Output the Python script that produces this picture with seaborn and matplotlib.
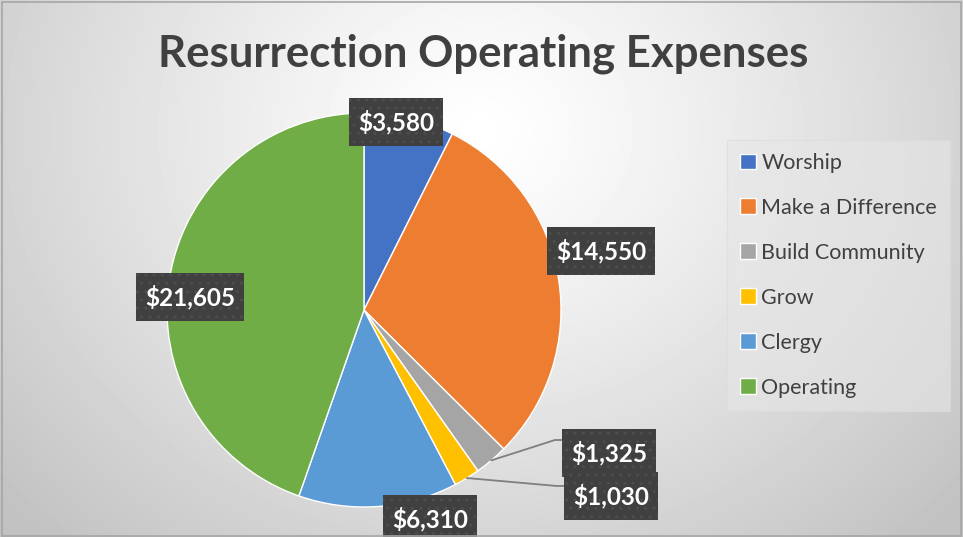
import numpy as np
import matplotlib.pyplot as plt
import seaborn as sns

# chart data
categories = ["Worship", "Make a Difference", "Build Community", "Grow", "Clergy", "Operating"]
expenses = [3580, 14550, 1325, 1030, 6310, 21605]
colors = ["#4472C4", "#ED7D31", "#A5A5A5", "#FFC000", "#5B9BD5", "#70AD47"]

sns.set_style("white")
plt.rcParams['font.family'] = ['Lato', 'DejaVu Sans']

W, H = 963, 537
fig = plt.figure(figsize=(W / 100, H / 100), dpi=100)
ax = fig.add_axes([0, 0, 1, 1])

# radial grey background
yy, xx = np.mgrid[0:H, 0:W]
d = np.sqrt((xx - 480) ** 2 + ((yy - 130) * 1.15) ** 2) / 640
shade = 1.0 - 0.24 * np.clip(d, 0, 1) ** 1.2
ax.imshow(shade, cmap="gray", vmin=0, vmax=1, extent=(0, W, 0, H), origin="upper", zorder=0)

# pie, center (364, 310) px from top, radius 197 px
cx, cy, r = 364, H - 310, 197
wedges, _ = ax.pie(expenses, colors=colors, startangle=90, counterclock=False,
                   center=(cx, cy), radius=r,
                   wedgeprops=dict(edgecolor="white", linewidth=1))
for w in wedges:
    w.set_zorder(2)

ax.set_xlim(0, W)
ax.set_ylim(0, H)
ax.set_aspect("auto")
ax.axis("off")

# label boxes (pixel positions from top-left)
label_pos = [(396, 122), (601, 251), (609, 453), (611, 496), (430, 519), (190, 297)]
box = dict(boxstyle="square,pad=0.38", fc="#404040", ec="#4d4d4d", hatch="..", lw=0,
           mutation_aspect=1.3)
for w, v, (lx, ly) in zip(wedges, expenses, label_pos):
    ax.text(lx, H - ly, f"${v:,}", ha="center", va="center", fontsize=17.5,
            fontweight="bold", color="white", bbox=box, zorder=5)
    # leader lines for the small slices
    if v < 2000:
        ang = np.deg2rad((w.theta1 + w.theta2) / 2)
        x0, y0 = cx + r * np.cos(ang), cy + r * np.sin(ang)
        x_end = lx - 46
        y_end = H - ly + (13 if v > 1200 else 10)
        ax.plot([x0, x_end - 8, x_end], [y0, y_end, y_end], color="#7f7f7f", lw=1.3, zorder=3)

# title
fig.text(483 / W, 1 - 54 / H, "Resurrection Operating Expenses", ha="center", va="center",
         fontsize=31.5, fontweight="bold", color="#404040")

# legend
leg = ax.legend(wedges, categories, loc="upper left", bbox_to_anchor=(727 / W, 1 - 140 / H),
                bbox_transform=fig.transFigure, frameon=True, fontsize=15.5, borderaxespad=0,
                labelspacing=1.16, handlelength=0.75, handleheight=0.75, handletextpad=0.25,
                borderpad=0.6, labelcolor="#404040", fancybox=False)
leg.get_frame().set_facecolor("#e6e6e6")
leg.get_frame().set_edgecolor("#dcdcdc")
leg.get_frame().set_alpha(0.6)

# outer border
fig.patches.append(plt.Rectangle((0.002, 0.002), 0.996, 0.994, transform=fig.transFigure,
                                 fill=False, ec="#a6a6a6", lw=1.2))

fig.savefig("out.png", dpi=100)
